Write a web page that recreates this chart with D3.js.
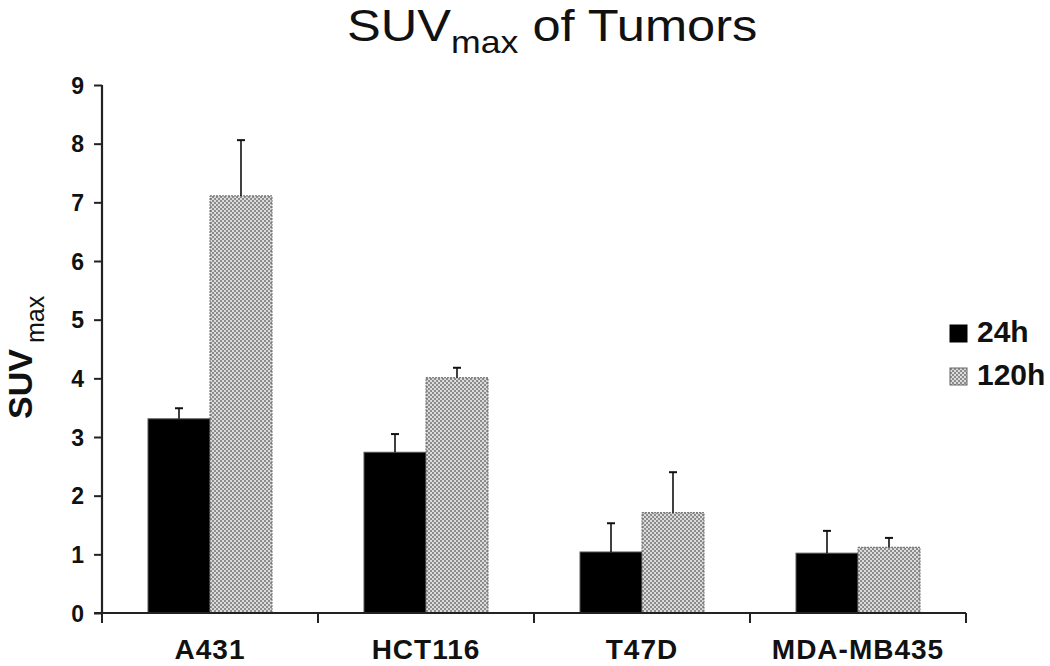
<!DOCTYPE html>
<html><head><meta charset="utf-8">
<script src="https://cdn.jsdelivr.net/npm/d3@7"></script>
<style>body{margin:0;background:#fff}svg{display:block}text{font-family:"Liberation Sans",Arial,sans-serif}</style>
</head><body>
<svg id="c" width="1050" height="666"></svg>
<script>
const categories = ["A431", "HCT116", "T47D", "MDA-MB435"];
const seriesNames = ["24h", "120h"];
const values24h = [3.31, 2.74, 1.04, 1.02];
const values120h = [7.11, 4.01, 1.71, 1.12];
const errors24h = [0.18, 0.31, 0.49, 0.38];
const errors120h = [0.95, 0.17, 0.69, 0.16];
const yTicks = [0,1,2,3,4,5,6,7,8,9];

const svg = d3.select("#c");
const defs = svg.append("defs");
const pat = defs.append("pattern").attr("id","chk").attr("patternUnits","userSpaceOnUse").attr("width",4).attr("height",4);
pat.append("rect").attr("width",4).attr("height",4).attr("fill","#dcdcdc");
pat.append("rect").attr("width",2).attr("height",2).attr("fill","#8c8c8c");
pat.append("rect").attr("x",2).attr("y",2).attr("width",2).attr("height",2).attr("fill","#8c8c8c");

const x0 = d3.scaleBand().domain(categories).range([102, 966]).paddingInner(0.426).paddingOuter(0.213);
const x1 = d3.scaleBand().domain(seriesNames).range([0, x0.bandwidth()]);
const y = d3.scaleLinear().domain([0, 9]).range([613, 85]);

const data = categories.map((c,i)=>({c, vals:[
  {s:"24h", v:values24h[i], e:errors24h[i]},
  {s:"120h", v:values120h[i], e:errors120h[i]}]}));

// bars
const g = svg.append("g");
const groups = g.selectAll("g.grp").data(data).enter().append("g").attr("transform", d=>`translate(${x0(d.c)},0)`);
groups.selectAll("rect").data(d=>d.vals).enter().append("rect")
  .attr("x", d=>x1(d.s)).attr("width", x1.bandwidth())
  .attr("y", d=>y(d.v)).attr("height", d=>y(0)-y(d.v))
  .attr("fill", d=>d.s==="24h" ? "#000" : "url(#chk)")
  .attr("stroke", d=>d.s==="24h" ? "#555" : "#666")
  .attr("stroke-width", 1)
  .attr("stroke-dasharray", d=>d.s==="24h" ? null : "2,1");
// error bars
groups.selectAll("line.err").data(d=>d.vals).enter().append("line")
  .attr("x1", d=>x1(d.s)+x1.bandwidth()/2).attr("x2", d=>x1(d.s)+x1.bandwidth()/2)
  .attr("y1", d=>y(d.v)).attr("y2", d=>y(d.v+d.e))
  .attr("stroke", "#111").attr("stroke-width", 1.6);
groups.selectAll("line.cap").data(d=>d.vals).enter().append("line")
  .attr("x1", d=>x1(d.s)+x1.bandwidth()/2-4).attr("x2", d=>x1(d.s)+x1.bandwidth()/2+4)
  .attr("y1", d=>y(d.v+d.e)).attr("y2", d=>y(d.v+d.e))
  .attr("stroke", "#111").attr("stroke-width", 2);

// y axis
const yAxis = svg.append("g").attr("transform","translate(102,0)")
  .call(d3.axisLeft(y).tickValues(yTicks).tickFormat(d3.format("d")).tickSize(8).tickPadding(10));
yAxis.select(".domain").attr("stroke","#222").attr("stroke-width",2.2).attr("d","M0,85V613");
yAxis.selectAll(".tick line").attr("stroke","#222").attr("stroke-width",2);
yAxis.selectAll(".tick text").attr("font-size",23).attr("font-weight","bold").attr("fill","#111").attr("dy","0.35em");

// x axis line + boundary ticks
const bounds = d3.range(categories.length+1).map(i=>x0.range()[0] + i*x0.step());
svg.append("line").attr("x1",94).attr("x2",bounds[bounds.length-1]).attr("y1",y(0)).attr("y2",y(0))
  .attr("stroke","#222").attr("stroke-width",2.2);
svg.selectAll("line.xt").data(bounds).enter().append("line")
  .attr("x1",d=>d).attr("x2",d=>d).attr("y1",y(0)).attr("y2",y(0)+10)
  .attr("stroke","#222").attr("stroke-width",2);
svg.selectAll("text.xl").data(categories).enter().append("text")
  .attr("x", d=>x0(d)+x0.bandwidth()/2).attr("y", 659)
  .attr("text-anchor","middle").attr("font-size",28).attr("font-weight","bold").attr("fill","#111")
  .attr("letter-spacing", 1)
  .text(d=>d);

// y label
const yl = svg.append("text").attr("transform","translate(32,419) rotate(-90)").attr("text-anchor","start").attr("fill","#111");
yl.append("tspan").attr("font-size",34).attr("font-weight","bold").text("SUV");
yl.append("tspan").attr("font-size",25).attr("dx",6).attr("dy",12).text("max");

// title
const tg = svg.append("g").attr("transform","translate(347,41) scale(1.15,1)");
const tt = tg.append("text").attr("x",0).attr("y",0).attr("fill","#111");
tt.append("tspan").attr("font-size",44).text("SUV");
tt.append("tspan").attr("font-size",31).attr("dy",12).text("max");
tt.append("tspan").attr("font-size",44).attr("dy",-12).text(" of Tumors");

// legend
const legY = [325, 368];
const leg = svg.selectAll("g.leg").data(seriesNames).enter().append("g").attr("transform",(d,i)=>`translate(950,${legY[i]})`);
leg.append("rect").attr("width",17).attr("height",17)
  .attr("fill",(d,i)=>i===0?"#000":"url(#chk)").attr("stroke",(d,i)=>i===0?"#000":"#666").attr("stroke-width",1);
leg.append("text").attr("x",27).attr("y",17).attr("font-size",30).attr("font-weight","bold").attr("fill","#111").text(d=>d);
</script>
</body></html>
